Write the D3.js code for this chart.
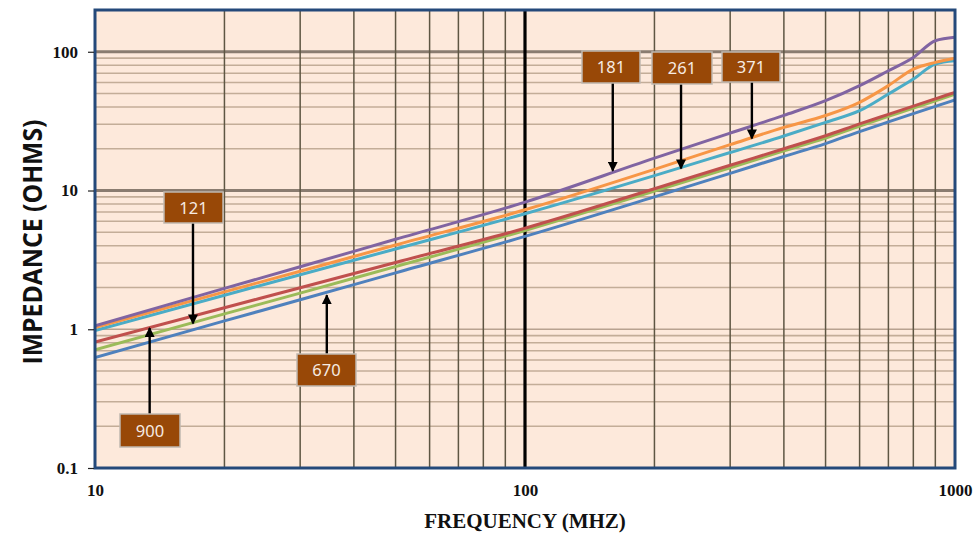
<!DOCTYPE html>
<html>
<head>
<meta charset="utf-8">
<script src="https://cdn.jsdelivr.net/npm/d3@7"></script>
<style>
  html, body { margin: 0; padding: 0; background: #ffffff; }
  svg { display: block; }
</style>
</head>
<body>
<svg id="chart" width="977" height="533"></svg>
<script>
// ---------------- DATA ----------------
const frequencies = [10, 20, 30, 50, 100, 200, 300, 400, 500, 600, 700, 800, 900, 1000];
const seriesNames = ["670", "121", "900", "261", "371", "181"];
const s670 = [0.626, 1.15, 1.63, 2.55, 4.67, 9.0, 13.3, 17.6, 21.8, 26.6, 31.2, 35.8, 40.4, 45];
const s121 = [0.71, 1.29, 1.82, 2.83, 5.15, 9.9, 14.6, 19.3, 23.9, 29.1, 34.2, 39.2, 44.3, 49.4];
const s900 = [0.81, 1.43, 1.99, 3.03, 5.35, 10.3, 15.2, 20.0, 24.8, 30.2, 35.4, 40.6, 45.8, 51];
const s261 = [0.98, 1.76, 2.47, 3.79, 6.8, 12.8, 18.8, 24.7, 31.0, 37.6, 49.6, 63.6, 81.5, 86];
const s371 = [1.03, 1.86, 2.62, 4.05, 7.26, 14.2, 21.4, 28.5, 34.7, 43.2, 57, 75, 83.8, 89.8];
const s181 = [1.06, 1.97, 2.82, 4.45, 8.24, 17.1, 25.9, 34.8, 44.4, 57, 73, 91, 120, 127];
const seriesValues = [s670, s121, s900, s261, s371, s181];
const seriesColors = ["#4f81bd", "#9bbb59", "#c0504d", "#4bacc6", "#f79646", "#8064a2"];

const xTickValues = [10, 100, 1000];
const xTickLabels = ["10", "100", "1000"];
const yTickValues = [0.1, 1, 10, 100];
const yTickLabels = ["0.1", "1", "10", "100"];

// callouts: label, arrow tip (freq, impedance)
const calloutLabels = ["121", "900", "670", "181", "261", "371"];
const calloutTipFreq = [16.9, 13.4, 34.6, 160, 230.6, 337];
const calloutTipValue = [1.10, 1.02, 1.76, 13.9, 14.4, 23.7];

// ---------------- LAYOUT ----------------
const plot = { left: 95, right: 955, top: 10, bottom: 468 };
const calloutBoxes = [
  { x: 164, y: 192, w: 59, h: 31 },
  { x: 120, y: 414, w: 60, h: 33 },
  { x: 297, y: 354, w: 59, h: 32 },
  { x: 582, y: 51,  w: 58, h: 32 },
  { x: 652, y: 52,  w: 60, h: 32 },
  { x: 722, y: 52,  w: 58, h: 30 }
];

const svg = d3.select("#chart");

const x = d3.scaleLog().domain([10, 1000]).range([plot.left, plot.right]);
const y = d3.scaleLog().domain([0.1, 200]).range([plot.bottom, plot.top]);

// defs
const defs = svg.append("defs");
defs.append("marker")
  .attr("id", "arrowhead")
  .attr("viewBox", "0 0 10 10")
  .attr("refX", 9).attr("refY", 5)
  .attr("markerWidth", 4.2).attr("markerHeight", 4.2)
  .attr("markerUnits", "strokeWidth")
  .attr("orient", "auto")
  .append("path").attr("d", "M0,0 L10,5 L0,10 z").attr("fill", "#000");

defs.append("clipPath").attr("id", "plotclip")
  .append("rect")
  .attr("x", plot.left).attr("y", plot.top)
  .attr("width", plot.right - plot.left).attr("height", plot.bottom - plot.top);

// background
svg.append("rect")
  .attr("x", plot.left).attr("y", plot.top)
  .attr("width", plot.right - plot.left).attr("height", plot.bottom - plot.top)
  .attr("fill", "#fde9db");

// minor horizontal grid
const yMinor = [];
[0.1, 1, 10].forEach(d => { for (let k = 2; k <= 9; k++) yMinor.push(+(d * k).toPrecision(3)); });
const grid = svg.append("g");
grid.selectAll("line.hmin").data(yMinor).join("line")
  .attr("x1", plot.left).attr("x2", plot.right)
  .attr("y1", d => y(d)).attr("y2", d => y(d))
  .attr("stroke", "#c3ad98").attr("stroke-width", 1.6);

// y = 1 line (thin)
grid.append("line")
  .attr("x1", plot.left).attr("x2", plot.right)
  .attr("y1", y(1)).attr("y2", y(1))
  .attr("stroke", "#b8a290").attr("stroke-width", 1.6);

// major horizontal grid (10, 100)
grid.selectAll("line.hmaj").data([10, 100]).join("line")
  .attr("x1", plot.left).attr("x2", plot.right)
  .attr("y1", d => y(d)).attr("y2", d => y(d))
  .attr("stroke", "#8a7c70").attr("stroke-width", 3);

// vertical grid
const xMinor = [];
[10, 100].forEach(d => { for (let k = 2; k <= 9; k++) xMinor.push(d * k); });
grid.selectAll("line.vmin").data(xMinor).join("line")
  .attr("x1", d => x(d)).attr("x2", d => x(d))
  .attr("y1", plot.top).attr("y2", plot.bottom)
  .attr("stroke", "#5e5643").attr("stroke-width", 1.5);

grid.append("line")
  .attr("x1", x(100)).attr("x2", x(100))
  .attr("y1", plot.top).attr("y2", plot.bottom)
  .attr("stroke", "#000").attr("stroke-width", 3.2);

// series lines
const line = d3.line()
  .x(d => x(d[0])).y(d => y(d[1]))
  .curve(d3.curveMonotoneX);

const lines = svg.append("g").attr("clip-path", "url(#plotclip)");
seriesValues.forEach((vals, i) => {
  lines.append("path")
    .datum(frequencies.map((f, j) => [f, vals[j]]))
    .attr("d", line)
    .attr("fill", "none")
    .attr("stroke", seriesColors[i])
    .attr("stroke-width", 3)
    .attr("stroke-linejoin", "round")
    .attr("data-name", seriesNames[i]);
});

// frame
svg.append("rect")
  .attr("x", plot.left).attr("y", plot.top)
  .attr("width", plot.right - plot.left).attr("height", plot.bottom - plot.top)
  .attr("fill", "none").attr("stroke", "#24497a").attr("stroke-width", 3);

// y axis
const yAxis = d3.axisLeft(y)
  .tickValues(yTickValues)
  .tickFormat((d, i) => yTickLabels[i])
  .tickSize(6).tickPadding(10);
const gy = svg.append("g").attr("transform", `translate(${plot.left - 1},0)`).call(yAxis);
gy.select(".domain").remove();
gy.selectAll(".tick line").attr("stroke", "#222").attr("stroke-width", 1.2);
gy.selectAll(".tick text")
  .attr("font-family", "'Liberation Serif', 'Times New Roman', serif")
  .attr("font-weight", "bold").attr("font-size", 17).attr("fill", "#111");

// x axis
const xAxis = d3.axisBottom(x)
  .tickValues(xTickValues)
  .tickFormat((d, i) => xTickLabels[i])
  .tickSize(0).tickPadding(16);
const gx = svg.append("g").attr("transform", `translate(0,${plot.bottom})`).call(xAxis);
gx.select(".domain").remove();
gx.selectAll(".tick text")
  .attr("font-family", "'Liberation Serif', 'Times New Roman', serif")
  .attr("font-weight", "bold").attr("font-size", 17).attr("fill", "#111");

// axis titles
svg.append("text")
  .attr("x", 525).attr("y", 528)
  .attr("text-anchor", "middle")
  .attr("font-family", "'Liberation Serif', 'Times New Roman', serif")
  .attr("font-weight", "bold").attr("font-size", 21).attr("fill", "#111")
  .text("FREQUENCY (MHZ)");

svg.append("text")
  .attr("transform", "translate(42,242) rotate(-90)")
  .attr("text-anchor", "middle")
  .attr("font-family", "'Open Sans', 'Liberation Sans', sans-serif")
  .attr("font-weight", "bold").attr("font-size", 27).attr("fill", "#111")
  .attr("textLength", 245).attr("lengthAdjust", "spacingAndGlyphs")
  .text("IMPEDANCE (OHMS)");

// callouts
const callouts = svg.append("g");
calloutLabels.forEach((lab, i) => {
  const b = calloutBoxes[i];
  const tx = x(calloutTipFreq[i]);
  const ty = y(calloutTipValue[i]);
  const boxBelow = b.y > ty;
  const startY = boxBelow ? b.y : b.y + b.h;
  callouts.append("line")
    .attr("x1", tx).attr("y1", startY)
    .attr("x2", tx).attr("y2", ty)
    .attr("stroke", "#000").attr("stroke-width", 2.4)
    .attr("marker-end", "url(#arrowhead)");
  callouts.append("rect")
    .attr("x", b.x).attr("y", b.y).attr("width", b.w).attr("height", b.h)
    .attr("fill", "#984807").attr("stroke", "#c0b8b0").attr("stroke-width", 1.5);
  callouts.append("text")
    .attr("x", b.x + b.w / 2).attr("y", b.y + b.h / 2 + 6)
    .attr("text-anchor", "middle")
    .attr("font-family", "'Noto Sans', 'Open Sans', sans-serif")
    .attr("font-size", 16.5).attr("fill", "#f6ebe2")
    .text(lab);
});
</script>
</body>
</html>
